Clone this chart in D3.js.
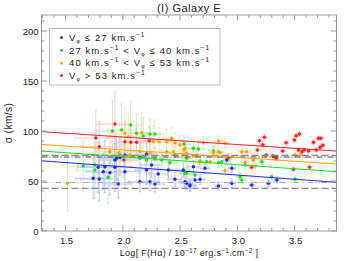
<!DOCTYPE html>
<html><head><meta charset="utf-8">
<script src="https://cdn.jsdelivr.net/npm/d3@7"></script>
<style>body{margin:0;background:#fff;} text{font-family:"Liberation Sans",Arial,sans-serif;}</style>
</head><body><svg id="c" width="354" height="261"></svg>
<script>
// [logF, sigma, xerr, yerr]
const blue = [
[1.945,72.7,0.15,22],[1.974,73.7,0.12,18],[1.931,71,0.14,25],[2.018,76,0.12,15],[2.149,73.7,0.1,14],
[2.207,77,0.09,12],[2.207,61,0.1,14],[2.251,66,0.09,12],[1.931,63.7,0.15,24],[1.843,64.3,0.16,26],
[1.785,63.7,0.18,25],[1.741,52.7,0.15,20],[1.794,52,0.16,22],[1.829,59.3,0.15,18],[1.887,58.3,0.14,22],
[1.96,47,0.12,14],[2.149,49.3,0.1,10],[2.237,49.3,0.08,9],[2.28,47,0.08,8],[2.455,51.7,0.06,7],
[2.543,49.3,0.05,6],[2.586,46,0.05,6],[2.63,51,0.05,6],[2.309,57,0.08,10],[2.397,61,0.07,9],
[2.018,59.3,0.12,16],[2.557,47.7,0.05,6],[2.586,45,0.05,5],[2.674,51.7,0.04,5],[2.616,64.3,0.05,6],
[2.717,62.7,0.04,5],[2.907,71,0.03,4],[2.951,62.7,0.03,4],[2.834,45,0.03,4],[2.951,47.7,0.03,4],
[3.125,46,0.02,3],[3.271,47.7,0.02,3],[3.344,51,0.02,3],[2.528,61,0.05,7]
];
const green = [
[1.91,100,0.14,30],[1.989,101,0.12,26],[2.068,106,0.1,24],[2.12,97.7,0.1,20],[2.178,95,0.1,18],
[2.237,97,0.09,15],[2.28,97,0.08,14],[1.654,65,0.18,25],[1.756,61,0.16,28],[1.756,66,0.15,22],
[1.872,53.7,0.14,26],[1.974,76,0.12,18],[2.149,72.7,0.1,15],[2.207,71,0.09,12],[2.28,72,0.08,11],
[2.339,71,0.08,10],[2.411,68.3,0.07,9],[2.534,87,0.06,8],[2.557,57.7,0.05,7],[2.63,56,0.05,6],
[2.615,82.7,0.05,7],[2.455,76,0.06,8],[2.659,82,0.05,6],[2.79,80,0.04,5],[2.557,72.7,0.05,7],
[2.674,70,0.04,6],[2.732,69.3,0.04,5],[2.834,68.3,0.03,5],[2.863,69.3,0.03,4],[3.023,54.3,0.03,4],
[3.038,51,0.03,4],[3.067,66,0.03,4],[3.213,69.3,0.02,3],[3.3,54.3,0.02,3],[3.504,51.7,0.02,3],
[2.543,57.7,0.05,6]
];
const orange = [
[2.018,97.7,0.12,25],[2.047,94.3,0.12,22],[2.164,98.3,0.1,20],[2.266,89.3,0.09,16],[2.318,89.3,0.08,14],
[2.382,89.3,0.07,12],[2.426,92.7,0.07,11],[2.455,88.3,0.06,10],[2.499,86,0.06,9],[2.534,81,0.05,8],
[1.887,79.3,0.15,22],[1.968,78.3,0.13,20],[2.062,76,0.12,16],[2.149,79.3,0.1,14],[2.237,77.7,0.09,12],
[2.382,79.3,0.07,10],[2.441,79.3,0.06,9],[2.557,77.7,0.05,8],[2.645,76,0.05,7],[1.517,47.7,0.02,28],
[2.543,82.7,0.05,7],[2.703,88.3,0.04,6],[2.834,90,0.04,5],[2.892,87.7,0.03,5],[2.834,79.3,0.03,5],
[2.849,78.3,0.03,4],[2.79,78.3,0.04,5],[3.038,79.3,0.03,4],[3.082,79.3,0.03,4],[3.067,68.3,0.03,4],
[3.14,71,0.02,3],[3.155,65,0.02,3],[2.892,60.3,0.03,4],[2.674,69.3,0.04,6],[2.761,69.3,0.04,5],
[2.63,75,0.05,6],[2.528,76,0.05,7],[3.504,76,0.02,3],[3.548,76,0.02,3]
];
const red = [
[1.931,107,0.15,32],[1.764,93,0.18,28],[1.794,84.3,0.16,25],[2.018,89.3,0.12,20],[2.07,88.7,0.11,18],
[2.12,88.7,0.1,16],[2.231,90.3,0.09,14],[2.009,71,0.12,16],[3.192,90.3,0.02,3],[3.236,93.7,0.02,3],
[3.222,86.3,0.02,3],[3.175,81,0.02,3],[3.251,76,0.02,3],[3.309,75,0.02,2],[3.338,72.3,0.02,2],
[3.396,80,0.02,2],[3.426,88.3,0.02,2],[3.498,91,0.02,2],[3.513,95.3,0.02,2],[3.542,97,0.02,2],
[3.533,81,0.02,2],[3.563,79.3,0.02,2],[3.583,81,0.02,2],[3.621,80,0.02,2],[3.664,88.7,0.02,2],
[3.688,81,0.02,2],[3.708,92.7,0.02,2],[3.729,92.7,0.02,2],[3.746,85.7,0.02,2],[3.723,83.7,0.02,2],
[3.49,61.7,0.02,2],[3.63,63.7,0.02,2],[2.921,73.3,0.03,4],[3.125,63.7,0.02,3],[3.335,73.7,0.02,2]
];
// linear fits: sigma at left and right edges of the x range
const fitX = [1.29, 3.865];
const fitBlue = [70.2, 48.7];
const fitGreen = [80, 59.3];
const fitOrange = [86.5, 67];
const fitRed = [99.3, 80];
// horizontal reference levels
const refLevels = [75.7, 74, 48.5, 42.7];
const refStyles = ["dash","dashdot","dashdotdot","dash"];
const xTicks = [1.5, 2.0, 2.5, 3.0, 3.5];
const yTicks = [0, 50, 100, 150, 200];
const legendLabels = [["≤ 27 km.s"],["27 km.s","< V","≤ 40 km.s"],["40 km.s","< V","≤ 53 km.s"],["> 53 km.s"]];

const L=41.5, R=336.5, T=15, B=231;
const svg=d3.select("#c");
const x=d3.scaleLinear().domain([1.29,3.865]).range([L,R]);
const y=d3.scaleLinear().domain([0,216]).range([B,T]);

const series=[
 {d:blue,c:"#1a2cff",e:"#aab3ff",fit:fitBlue},
 {d:green,c:"#1fdc1f",e:"#b3f0b3",fit:fitGreen},
 {d:orange,c:"#ffa200",e:"#ffdcaa",fit:fitOrange},
 {d:red,c:"#ff2020",e:"#ffbcbc",fit:fitRed}
];
const g=svg.append("g");
series.forEach(s=>{
  const eg=g.append("g").attr("stroke",s.e).attr("stroke-width",1).attr("fill","none").attr("opacity",0.8);
  s.d.forEach(p=>{
    const cx=x(p[0]), cy=y(p[1]);
    eg.append("line").attr("x1",x(p[0]-p[2])).attr("x2",x(p[0]+p[2])).attr("y1",cy).attr("y2",cy);
    eg.append("line").attr("x1",cx).attr("x2",cx).attr("y1",y(p[1]-p[3])).attr("y2",y(p[1]+p[3]));
    [p[1]-p[3],p[1]+p[3]].forEach(v=>eg.append("line").attr("x1",cx-1.5).attr("x2",cx+1.5).attr("y1",y(v)).attr("y2",y(v)));
    [p[0]-p[2],p[0]+p[2]].forEach(v=>eg.append("line").attr("y1",cy-1.5).attr("y2",cy+1.5).attr("x1",x(v)).attr("x2",x(v)));
  });
});
series.forEach(s=>{
  g.append("g").selectAll("circle").data(s.d).join("circle")
   .attr("cx",p=>x(p[0])).attr("cy",p=>y(p[1])).attr("r",1.7).attr("fill",s.c);
});
// reference lines
const dashes={dash:"7,3",dashdot:"6,2,1,2",dashdotdot:"6,2,1,2,1,2"};
const refCol={dash:"#888",dashdot:"#444",dashdotdot:"#aaa"};
refLevels.forEach((v,i)=>{
  svg.append("line").attr("x1",L).attr("x2",R).attr("y1",y(v)).attr("y2",y(v))
   .attr("stroke",refCol[refStyles[i]]).attr("stroke-width",1.2).attr("stroke-dasharray",dashes[refStyles[i]]);
});
series.forEach(s=>{
  svg.append("line").attr("x1",x(fitX[0])).attr("x2",x(fitX[1])).attr("y1",y(s.fit[0])).attr("y2",y(s.fit[1]))
   .attr("stroke",s.c).attr("stroke-width",1);
});
// frame and ticks
const fc="#999";
svg.append("rect").attr("x",L).attr("y",T).attr("width",R-L).attr("height",B-T).attr("fill","none").attr("stroke",fc);
const xMinor=d3.range(13,39).map(v=>v/10);
const yMinor=d3.range(0,22).map(v=>v*10);
xMinor.forEach(v=>{
  const maj=xTicks.some(t=>Math.abs(t-v)<1e-6), len=maj?5.5:3;
  svg.append("line").attr("x1",x(v)).attr("x2",x(v)).attr("y1",B).attr("y2",B-len).attr("stroke",fc);
  svg.append("line").attr("x1",x(v)).attr("x2",x(v)).attr("y1",T).attr("y2",T+len).attr("stroke",fc);
});
yMinor.forEach(v=>{
  const maj=yTicks.includes(v), len=maj?5.5:3;
  svg.append("line").attr("y1",y(v)).attr("y2",y(v)).attr("x1",L).attr("x2",L+len).attr("stroke",fc);
  svg.append("line").attr("y1",y(v)).attr("y2",y(v)).attr("x1",R).attr("x2",R-len).attr("stroke",fc);
});
const tc="#222";
xTicks.forEach(v=>svg.append("text").attr("x",x(v)+1).attr("y",B+13).attr("text-anchor","middle")
  .attr("font-size",9.5).attr("fill",tc).text(v.toFixed(1)));
yTicks.forEach(v=>svg.append("text").attr("x",L-3).attr("y",y(v)+3.5).attr("text-anchor","end")
  .attr("font-size",9.5).attr("fill",tc).text(v));
// title
svg.append("text").attr("x",(L+R)/2).attr("y",12).attr("text-anchor","middle").attr("font-size",11).attr("letter-spacing",0.5).attr("fill",tc).text("(I) Galaxy E");
// y label
svg.append("text").attr("transform",`translate(12,${(T+B)/2}) rotate(-90)`).attr("text-anchor","middle")
  .attr("font-size",10).attr("letter-spacing",0.5).attr("fill",tc).text("σ (km/s)");
// x label
const xl=svg.append("text").attr("x",(L+R)/2).attr("y",256).attr("text-anchor","middle").attr("font-size",9).attr("letter-spacing",0.3).attr("fill",tc);
xl.append("tspan").text("Log[ F(Hα) / 10");
xl.append("tspan").attr("dy",-3.5).attr("font-size",6.5).text("−17");
xl.append("tspan").attr("dy",3.5).text(" erg.s");
xl.append("tspan").attr("dy",-3.5).attr("font-size",6.5).text("−1");
xl.append("tspan").attr("dy",3.5).text(".cm");
xl.append("tspan").attr("dy",-3.5).attr("font-size",6.5).text("−2");
xl.append("tspan").attr("dy",3.5).text(" ]");
// legend
svg.append("rect").attr("x",49.5).attr("y",28.5).attr("width",170.5).attr("height",56.5).attr("fill","#fff").attr("stroke","#bbb");
const lg=svg.append("g");
series.forEach((s,i)=>{
  const yy=37.5+i*12.7;
  lg.append("circle").attr("cx",61.5).attr("cy",yy).attr("r",1.5).attr("fill",s.c);
  const t=lg.append("text").attr("x",69).attr("y",yy+3.5).attr("font-size",9.5).attr("fill",tc).attr("letter-spacing",1.1);
  const lab=legendLabels[i];
  const V=()=>{t.append("tspan").text("V");t.append("tspan").attr("dy",2).attr("font-size",5.5).text("φ");t.append("tspan").attr("dy",-2).text(" ");};
  const sup=()=>{t.append("tspan").attr("dy",-4).attr("font-size",6.5).text("−1");t.append("tspan").attr("dy",4).text(" ");};
  if(lab.length===1){
    V(); t.append("tspan").text(lab[0]); sup();
  } else {
    t.append("tspan").text(lab[0]); sup();
    t.append("tspan").text(lab[1].replace("V","")); V(); t.append("tspan").text(lab[2]); sup();
  }
});
</script></body></html>
